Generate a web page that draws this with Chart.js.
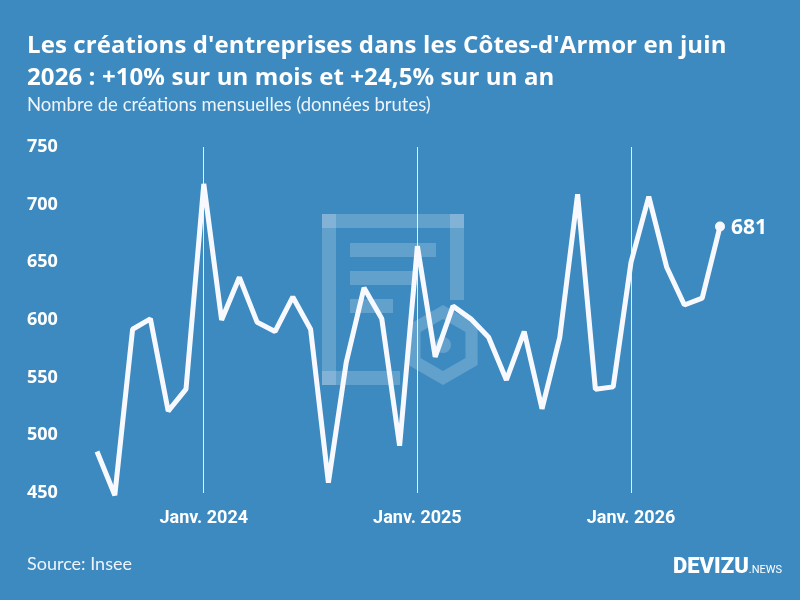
<!DOCTYPE html>
<html lang="fr">
<head>
<meta charset="utf-8">
<script src="https://cdn.jsdelivr.net/npm/chart.js@4"></script>
<style>
  html, body { margin: 0; padding: 0; }
  body { width: 800px; height: 600px; background: #3d8ac1; position: relative; overflow: hidden; font-family: Lato, "Noto Sans", sans-serif; color: #fff; }
  #title { position: absolute; left: 27px; top: 28px; font-family: "Open Sans", sans-serif; font-size: 24px; font-weight: 700; line-height: 32px; white-space: nowrap; letter-spacing: 0.1px; }
  #subtitle { position: absolute; left: 27px; top: 93px; font-size: 18.5px; line-height: 22px; color: #eef4fa; }
  #source { position: absolute; left: 27px; top: 552px; font-size: 18px; line-height: 22px; color: #eef4fa; }
  #logo { position: absolute; left: 673px; top: 553px; line-height: 26px; white-space: nowrap; }
  #logo b { font-family: Roboto, sans-serif; font-weight: 900; font-size: 22px; }
  #logo span { font-family: Roboto, sans-serif; font-size: 11px; }
  #wrap { position: absolute; left: 0; top: 0; width: 800px; height: 600px; }
</style>
</head>
<body>
<div id="wrap"><canvas id="chart" width="800" height="600"></canvas></div>
<div id="title">Les créations d'entreprises dans les Côtes-d'Armor en juin<br>2026 : +10% sur un mois et +24,5% sur un an</div>
<div id="subtitle">Nombre de créations mensuelles (données brutes)</div>
<div id="source">Source: Insee</div>
<div id="logo"><b>DEVIZU</b><span>.NEWS</span></div>
<script>
// mois (juillet 2023 -> juin 2026)
const months = [
  '2023-07', '2023-08', '2023-09', '2023-10', '2023-11', '2023-12',
  '2024-01', '2024-02', '2024-03', '2024-04', '2024-05', '2024-06',
  '2024-07', '2024-08', '2024-09', '2024-10', '2024-11', '2024-12',
  '2025-01', '2025-02', '2025-03', '2025-04', '2025-05', '2025-06',
  '2025-07', '2025-08', '2025-09', '2025-10', '2025-11', '2025-12',
  '2026-01', '2026-02', '2026-03', '2026-04', '2026-05', '2026-06'
];
const creations = [
  486, 448, 592, 601, 521, 540,
  718, 600, 637, 598, 590, 620,
  592, 459, 563, 628, 601, 491,
  664, 568, 612, 601, 585, 548,
  590, 523, 585, 709, 540, 542,
  650, 707, 646, 613, 619, 681
];
const tickLabels = { '2024-01': 'Janv. 2024', '2025-01': 'Janv. 2025', '2026-01': 'Janv. 2026' };
const yTicks = [450, 500, 550, 600, 650, 700, 750];

const lastIdx = creations.length - 1;

// logo en filigrane derriere la courbe
const watermark = {
  id: 'watermark',
  beforeDatasetsDraw(chart) {
    const c = chart.ctx;
    c.save();
    c.fillStyle = 'rgba(255,255,255,0.2)';
    // cadre du document
    c.fillRect(322, 214, 142, 14);
    c.fillRect(322, 214, 14, 171);
    c.fillRect(450, 214, 14, 86);
    c.fillRect(322, 371, 78, 14);
    // lignes
    c.fillRect(350, 243, 86, 14);
    c.fillRect(350, 271, 68, 14);
    c.fillRect(350, 299, 43, 14);
    // hexagone
    const cx = 443, cy = 345, r1 = 40, r2 = 26;
    c.beginPath();
    for (let i = 0; i < 6; i++) {
      const a = Math.PI / 2 + i * Math.PI / 3;
      const x = cx + r1 * Math.cos(a), y = cy - r1 * Math.sin(a);
      i ? c.lineTo(x, y) : c.moveTo(x, y);
    }
    c.closePath();
    for (let i = 0; i < 6; i++) {
      const a = Math.PI / 2 - i * Math.PI / 3;
      const x = cx + r2 * Math.cos(a), y = cy - r2 * Math.sin(a);
      i ? c.lineTo(x, y) : c.moveTo(x, y);
    }
    c.closePath();
    c.fill('evenodd');
    c.beginPath();
    c.arc(cx, cy, 8, 0, Math.PI * 2);
    c.fill();
    c.restore();
  }
};

// valeur du dernier point
const lastLabel = {
  id: 'lastLabel',
  afterDatasetsDraw(chart) {
    const pt = chart.getDatasetMeta(0).data[lastIdx];
    const c = chart.ctx;
    c.save();
    c.fillStyle = '#ffffff';
    c.font = 'bold 21px "Open Sans"';
    c.textBaseline = 'middle';
    c.fillText(String(creations[lastIdx]), pt.x + 11, pt.y + 1);
    c.restore();
  }
};

new Chart(document.getElementById('chart'), {
  type: 'line',
  data: {
    labels: months,
    datasets: [{
      data: creations,
      borderColor: '#f8f9ff',
      borderWidth: 5,
      borderJoinStyle: 'bevel',
      tension: 0,
      pointRadius: ctx => ctx.dataIndex === lastIdx ? 5 : 0,
      pointBackgroundColor: '#f8f9ff',
      pointBorderWidth: 0,
      clip: false
    }]
  },
  options: {
    responsive: false,
    animation: false,
    layout: { padding: { left: 27, right: 80, top: 147, bottom: 0 } },
    plugins: { legend: { display: false }, tooltip: { enabled: false } },
    scales: {
      x: {
        offset: false,
        border: { display: false },
        grid: {
          drawTicks: false,
          lineWidth: 1,
          color: ctx => (ctx.tick && tickLabels[months[ctx.index]]) ? 'rgba(255,255,255,0.85)' : 'rgba(0,0,0,0)'
        },
        ticks: {
          autoSkip: false,
          maxRotation: 0,
          padding: 15,
          color: '#ffffff',
          font: { family: 'Roboto', weight: 'bold', size: 18 },
          callback: (v, i) => tickLabels[months[i]] || ''
        },
        afterFit: s => { s.height = 107; }
      },
      y: {
        min: 450,
        max: 750,
        border: { display: false },
        grid: { display: false },
        afterBuildTicks: s => { s.ticks = yTicks.map(v => ({ value: v })); },
        ticks: {
          crossAlign: 'far',
          padding: 0,
          color: '#ffffff',
          font: { family: 'Open Sans', weight: 'bold', size: 18 }
        },
        afterFit: s => { s.width = 70; }
      }
    }
  },
  plugins: [watermark, lastLabel]
});
</script>
</body>
</html>
